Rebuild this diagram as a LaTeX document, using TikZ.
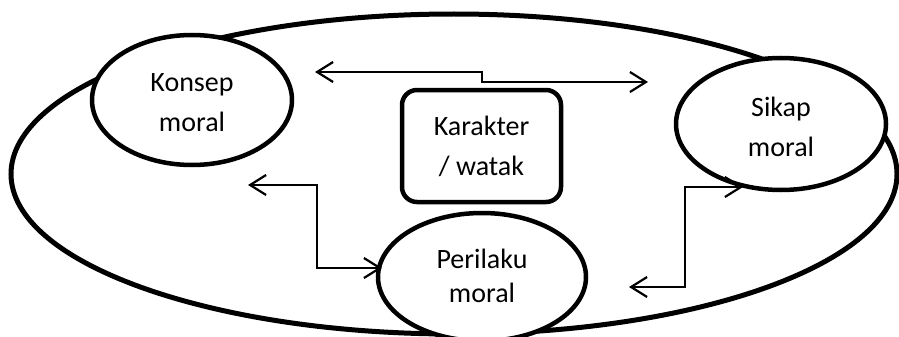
\documentclass[tikz,border=0pt]{standalone}
\usepackage{fontspec}
\setmainfont{Carlito}
\usetikzlibrary{arrows.meta,shapes.geometric}
\begin{document}
\begin{tikzpicture}[x=1pt,y=-1pt,
  lbl/.style={font=\fontsize{28}{40}\selectfont, align=center, inner sep=0pt},
  bubble/.style={lbl, ellipse, draw, line width=4.5pt, fill=white},
  charbox/.style={lbl, draw, line width=4.5pt, rounded corners=15pt, fill=white},
  conn/.style={line width=2.2pt, {Straight Barb[length=16pt,width=20pt]}-{Straight Barb[length=16pt,width=20pt]}}]
\useasboundingbox (0,0) rectangle (899,337);
% outer ellipse
\draw[line width=5pt] (454,174) ellipse [x radius=443, y radius=160];
% nodes
\node[bubble, minimum width=200pt, minimum height=130pt] (konsep) at (192,100) {};
\node[lbl] at (192,103) {Konsep\\moral};
\node[bubble, minimum width=210pt, minimum height=132pt] (sikap) at (781,124) {};
\node[lbl] at (781,127) {Sikap\\moral};
\node[bubble, minimum width=208pt, minimum height=128pt] (perilaku) at (482,277) {};
\node[lbl, font=\fontsize{28}{34}\selectfont] at (482,276) {Perilaku\\moral};
\node[charbox, minimum width=159pt, minimum height=112pt] (karakter) at (481.5,146) {Karakter\\/ watak};
% connector ends
\coordinate (k1) at (315,72);
\coordinate (s1) at (648,82);
\coordinate (k2) at (248,185);
\coordinate (p2) at (382,268);
\coordinate (s3) at (743,187);
\coordinate (p3) at (629,287);
% connectors
\draw[conn] (k1) -| (482,77) |- (s1);
\draw[conn] (k2) -| (317,226) |- (p2);
\draw[conn] (s3) -| (685,237) |- (p3);
\end{tikzpicture}
\end{document}
